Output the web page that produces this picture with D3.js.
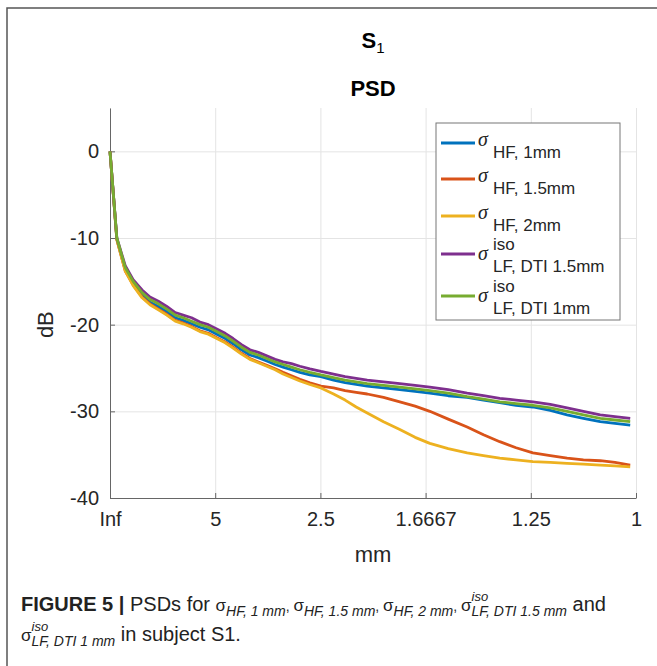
<!DOCTYPE html>
<html>
<head>
<meta charset="utf-8">
<script src="https://cdn.jsdelivr.net/npm/d3@7"></script>
<style>
body { margin: 0; background: #fff; }
text { font-family: "Liberation Sans", Arial, sans-serif; }
.cap { white-space: pre; }
</style>
</head>
<body>
<div id="chart"></div>
<script>
// spatial frequency (1/mm) and PSD values in dB
var freq = [0, 0.013, 0.029, 0.044, 0.061, 0.076, 0.092, 0.108, 0.124, 0.139, 0.155, 0.171, 0.187, 0.203, 0.219, 0.234,
  0.25, 0.266, 0.282, 0.298, 0.314, 0.329, 0.345, 0.361, 0.38, 0.401, 0.425, 0.447, 0.468, 0.489, 0.52, 0.551,
  0.58, 0.608, 0.643, 0.679, 0.71, 0.741, 0.772, 0.804, 0.837, 0.869, 0.9, 0.932, 0.96, 0.989];

var hf1mm = [0, -10.1, -13.6, -15.3, -16.6, -17.4, -17.9, -18.5, -19.2, -19.5, -19.9, -20.3, -20.6, -21.1, -21.6, -22.2,
  -22.9, -23.5, -23.8, -24.2, -24.6, -24.9, -25.2, -25.5, -25.8, -26.0, -26.4, -26.7, -26.9, -27.1, -27.3, -27.5,
  -27.7, -27.9, -28.2, -28.4, -28.7, -29.0, -29.3, -29.5, -29.9, -30.4, -30.8, -31.2, -31.4, -31.6];

var hf15mm = [0, -10.2, -13.8, -15.4, -16.8, -17.6, -18.2, -18.8, -19.5, -19.8, -20.2, -20.7, -21.0, -21.5, -22.0, -22.6,
  -23.3, -23.9, -24.3, -24.7, -25.1, -25.5, -25.9, -26.3, -26.7, -27.1, -27.3, -27.6, -27.8, -28.0, -28.4, -28.9,
  -29.4, -30.0, -30.9, -31.8, -32.7, -33.5, -34.2, -34.8, -35.1, -35.4, -35.6, -35.7, -35.9, -36.2];

var hf2mm = [0, -10.2, -13.8, -15.5, -16.9, -17.7, -18.3, -18.9, -19.6, -19.9, -20.3, -20.8, -21.1, -21.6, -22.1, -22.7,
  -23.4, -24.0, -24.4, -24.8, -25.2, -25.7, -26.1, -26.5, -26.9, -27.3, -28.0, -28.7, -29.5, -30.2, -31.2, -32.1,
  -33.0, -33.7, -34.3, -34.8, -35.1, -35.4, -35.6, -35.8, -35.9, -36.0, -36.1, -36.2, -36.3, -36.4];

var lfDti15mm = [0, -10, -13.2, -14.8, -16.0, -16.8, -17.3, -17.9, -18.6, -18.9, -19.2, -19.7, -20.0, -20.5, -21.0, -21.6,
  -22.3, -22.9, -23.2, -23.6, -24.0, -24.3, -24.5, -24.8, -25.1, -25.4, -25.7, -26.0, -26.2, -26.4, -26.6, -26.8,
  -27.0, -27.2, -27.5, -27.9, -28.2, -28.5, -28.7, -28.9, -29.2, -29.6, -30.0, -30.4, -30.6, -30.8];

var lfDti1mm = [0, -10, -13.4, -15.0, -16.3, -17.1, -17.6, -18.2, -18.9, -19.2, -19.6, -20.0, -20.3, -20.8, -21.3, -21.9,
  -22.6, -23.2, -23.5, -23.9, -24.3, -24.6, -24.9, -25.2, -25.5, -25.8, -26.1, -26.4, -26.6, -26.8, -27.0, -27.2,
  -27.4, -27.6, -27.9, -28.3, -28.6, -28.9, -29.1, -29.3, -29.6, -30.0, -30.4, -30.8, -31.0, -31.2];

var xTickVals = [0, 0.2, 0.4, 0.6, 0.8, 1];
var xTickLabels = ["Inf", "5", "2.5", "1.6667", "1.25", "1"];
var yTickVals = [0, -10, -20, -30, -40];

var seriesNames = ["HF, 1mm", "HF, 1.5mm", "HF, 2mm", "LF, DTI 1.5mm", "LF, DTI 1mm"];
var seriesIso = [false, false, false, true, true];
var seriesColors = ["#0072BD", "#D95319", "#EDB120", "#7E2F8E", "#77AC30"];
var seriesValues = [hf1mm, hf15mm, hf2mm, lfDti15mm, lfDti1mm];

var margin = { top: 108, right: 21, bottom: 168, left: 110 },
    width = 657 - margin.left - margin.right,
    height = 666 - margin.top - margin.bottom;

var root = d3.select("#chart")
    .append("svg")
    .attr("width", 657)
    .attr("height", 666);

// figure frame
root.append("path")
    .attr("d", "M7,666V8H657")
    .attr("fill", "none")
    .attr("stroke", "#555")
    .attr("stroke-width", 1.5);

var svg = root.append("g")
    .attr("transform", "translate(" + margin.left + "," + margin.top + ")");

var x = d3.scaleLinear().domain([0, 1]).range([0, width]);
var y = d3.scaleLinear().domain([-40, 5]).range([height, 0]);

// grid
svg.append("g")
    .attr("class", "grid")
    .attr("transform", "translate(0," + height + ")")
    .call(d3.axisBottom(x).tickValues(xTickVals).tickSize(-height).tickFormat(""));
svg.append("g")
    .attr("class", "grid")
    .call(d3.axisLeft(y).tickValues(yTickVals).tickSize(-width).tickFormat(""));
svg.selectAll(".grid .domain").remove();
svg.selectAll(".grid line").attr("stroke", "#e4e4e4").attr("stroke-width", 1);

// axes
var xAxis = svg.append("g")
    .attr("transform", "translate(0," + height + ")")
    .call(d3.axisBottom(x).tickValues(xTickVals)
        .tickFormat(function (d, i) { return xTickLabels[i]; })
        .tickSizeInner(-5).tickSizeOuter(0).tickPadding(14));
var yAxis = svg.append("g")
    .call(d3.axisLeft(y).tickValues(yTickVals)
        .tickFormat(function (d) { return String(d); })
        .tickSizeInner(-5).tickSizeOuter(0).tickPadding(11));

[xAxis, yAxis].forEach(function (a) {
    a.select(".domain").attr("stroke", "#666");
    a.selectAll(".tick line").attr("stroke", "#666");
    a.selectAll("text")
        .style("font-family", "'Liberation Sans', Arial, sans-serif")
        .style("font-size", "20px")
        .attr("fill", "#262626");
});

// lines
var line = d3.line()
    .x(function (d, i) { return x(freq[i]); })
    .y(function (d) { return y(d); });

seriesValues.forEach(function (vals, k) {
    svg.append("path")
        .datum(vals)
        .attr("d", line)
        .attr("fill", "none")
        .attr("stroke", seriesColors[k])
        .attr("stroke-width", 2.8)
        .attr("stroke-linejoin", "round");
});

// labels
svg.append("text")
    .attr("x", width / 2)
    .attr("y", height + 64)
    .attr("text-anchor", "middle")
    .style("font-size", "22px")
    .attr("fill", "#262626")
    .text("mm");

svg.append("text")
    .attr("transform", "translate(-57," + (y(-20)) + ") rotate(-90)")
    .attr("text-anchor", "middle")
    .style("font-size", "22px")
    .attr("fill", "#262626")
    .text("dB");

var t1 = root.append("text")
    .attr("x", margin.left + width / 2)
    .attr("y", 48)
    .attr("text-anchor", "middle")
    .style("font-size", "22px")
    .style("font-weight", "bold")
    .attr("fill", "#000");
t1.append("tspan").text("S");
t1.append("tspan").attr("dy", 5).style("font-size", "15px").style("font-weight", "normal").text("1");

root.append("text")
    .attr("x", margin.left + width / 2)
    .attr("y", 96)
    .attr("text-anchor", "middle")
    .style("font-size", "22px")
    .style("font-weight", "bold")
    .attr("fill", "#000")
    .text("PSD");

// legend
var lg = root.append("g");
lg.append("rect")
    .attr("x", 436).attr("y", 123)
    .attr("width", 184).attr("height", 197)
    .attr("fill", "#fff")
    .attr("stroke", "#777")
    .attr("stroke-width", 1);

var legY = [143, 179, 216, 254, 296];
seriesNames.forEach(function (name, k) {
    var ly = legY[k];
    var iso = seriesIso[k];
    lg.append("line")
        .attr("x1", 441).attr("x2", 475)
        .attr("y1", ly).attr("y2", ly)
        .attr("stroke", seriesColors[k])
        .attr("stroke-width", 2.8);
    lg.append("text")
        .attr("x", 478).attr("y", ly + (iso ? 6 : 3))
        .style("font-family", "'Liberation Serif', serif")
        .style("font-style", "italic")
        .style("font-size", "20px")
        .attr("fill", "#262626")
        .text("σ");
    if (iso) {
        lg.append("text")
            .attr("x", 493).attr("y", ly - 4)
            .style("font-size", "17px")
            .attr("fill", "#262626")
            .text("iso");
    }
    lg.append("text")
        .attr("x", 493).attr("y", ly + (iso ? 18 : 15))
        .style("font-size", "17px")
        .attr("fill", "#262626")
        .text(name);
});

// caption, built run by run so the stacked sub/superscripts line up
function caption(xStart, yBase, runs) {
    var cx = xStart;
    runs.forEach(function (r) {
        if (r.stack) {
            var a = root.append("text").attr("class", "cap").attr("x", cx).attr("y", yBase - 10)
                .style("font-size", "13px").style("font-style", "italic").attr("fill", "#222").text(r.sup);
            var b = root.append("text").attr("class", "cap").attr("x", cx).attr("y", yBase + 5)
                .style("font-size", "14px").attr("fill", "#222");
            r.sub.forEach(function (s) {
                b.append("tspan").style("font-style", s.i ? "italic" : "normal").text(s.t);
            });
            cx += Math.max(a.node().getComputedTextLength(), b.node().getComputedTextLength());
        } else {
            var t = root.append("text").attr("class", "cap").attr("x", cx).attr("y", yBase + (r.dy || 0))
                .style("font-size", (r.size || 20) + "px")
                .style("font-weight", r.b ? "bold" : "normal")
                .style("font-style", r.i ? "italic" : "normal")
                .attr("fill", "#222")
                .text(r.t);
            cx += t.node().getComputedTextLength();
        }
    });
}

caption(21, 611, [
    { t: "FIGURE 5 | ", b: true },
    { t: "PSDs for " },
    { t: "σ", size: 17 }, { stack: true, sup: "", sub: [{ t: "HF", i: true }, { t: ", 1 ", i: true }, { t: "mm", i: true }] },
    { t: ", ", size: 14 },
    { t: "σ", size: 17 }, { stack: true, sup: "", sub: [{ t: "HF", i: true }, { t: ", 1.5 ", i: true }, { t: "mm", i: true }] },
    { t: ", ", size: 14 },
    { t: "σ", size: 17 }, { stack: true, sup: "", sub: [{ t: "HF", i: true }, { t: ", 2 ", i: true }, { t: "mm", i: true }] },
    { t: ", ", size: 14 },
    { t: "σ", size: 17 }, { stack: true, sup: "iso", sub: [{ t: "LF", i: true }, { t: ", DTI 1.5 ", i: true }, { t: "mm", i: true }] },
    { t: " and" }
]);
caption(21, 641, [
    { t: "σ", size: 17 }, { stack: true, sup: "iso", sub: [{ t: "LF", i: true }, { t: ", DTI 1 ", i: true }, { t: "mm", i: true }] },
    { t: " in subject S1." }
]);
</script>
</body>
</html>
